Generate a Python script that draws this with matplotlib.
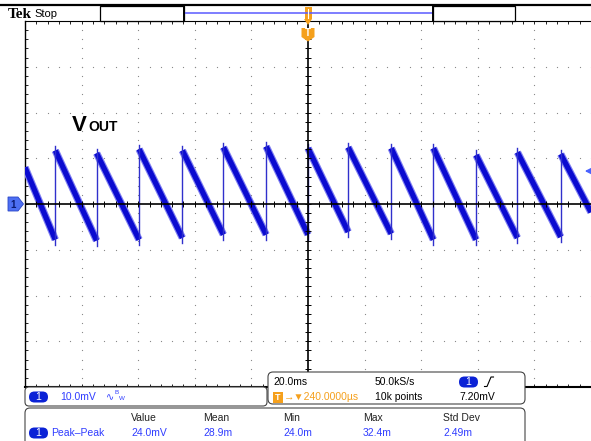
import matplotlib.pyplot as plt
from matplotlib.patches import FancyBboxPatch, Rectangle, Polygon
import numpy as np

# scope trace: 20 ms/div, 10 mV/div, ch1 ground at centre
edge_ms = [-89.3, -74.7, -59.7, -44.4, -29.9, -14.8, 0.0, 14.2, 29.4, 44.3, 59.4, 74.0, 89.3]
peak_mv = [11.7, 11.1, 12.0, 11.7, 12.4, 12.6, 12.2, 12.4, 12.2, 12.2, 10.7, 11.3, 10.9]
valley_mv = [-7.8, -8.0, -7.8, -7.4, -6.7, -6.7, -6.7, -6.1, -6.5, -7.8, -7.8, -7.4, -7.2]
start_ms, start_mv = -100.0, 8.0
end_ms, end_mv = 100.0, -1.8
trig_level_mv = 7.20

meas_headers = ["Value", "Mean", "Min", "Max", "Std Dev"]
meas_values = ["24.0mV", "28.9m", "24.0m", "32.4m", "2.49m"]
meas_name = "Peak\u2013Peak"
meas_cols = [131, 203, 283, 363, 443]

FONT = ['Liberation Sans', 'DejaVu Sans']
BLUE_TXT = '#2f3cff'
ORANGE = '#f5a01c'

fig = plt.figure(figsize=(5.91, 4.41), dpi=100)

# graticule area in pixels: x 25..591, y 21..387
ax = fig.add_axes([25 / 591, (441 - 387) / 441, 566 / 591, 366 / 441])
ax.set_xlim(-100, 100)
ax.set_ylim(-40, 40)
ax.set_xticks(np.arange(-100, 101, 20))
ax.set_yticks(np.arange(-40, 41, 10))
ax.set_xticks(np.arange(-100, 101, 4), minor=True)
ax.set_yticks(np.arange(-40, 41, 2), minor=True)
ax.tick_params(which='both', direction='in', length=2.2, width=0.7, top=True, bottom=True,
               left=True, right=False, labelbottom=False, labelleft=False, color='#222222')
ax.spines['right'].set_visible(False)
ax.spines['left'].set_linewidth(1.0)
ax.spines['top'].set_linewidth(0.8)
ax.spines['bottom'].set_linewidth(1.5)

# dotted graticule
for gx in np.arange(-80, 81, 20):
    if gx == 0:
        continue
    ys = np.arange(-40, 41, 2)
    ax.plot(np.full_like(ys, gx, dtype=float), ys, ls='none', marker='s', ms=0.8,
            color='#8a8a8a', mew=0)
for gy in np.arange(-30, 31, 10):
    if gy == 0:
        continue
    xs = np.arange(-100, 101, 4)
    ax.plot(xs, np.full_like(xs, gy, dtype=float), ls='none', marker='s', ms=0.8,
            color='#8a8a8a', mew=0)

# waveform: falling ramps drawn as a noisy band, rising edges as thin lines
ramp_x = [[start_ms, edge_ms[0]]]
ramp_y = [[start_mv, valley_mv[0]]]
for i in range(len(edge_ms) - 1):
    ramp_x.append([edge_ms[i], edge_ms[i + 1]])
    ramp_y.append([peak_mv[i], valley_mv[i + 1]])
ramp_x.append([edge_ms[-1], end_ms])
ramp_y.append([peak_mv[-1], end_mv])

for rx, ry in zip(ramp_x, ramp_y):
    ax.plot(rx, ry, color='#8080f2', lw=5.4, solid_capstyle='butt', zorder=3)
    ax.plot(rx, ry, color='#0b0bd0', lw=3.8, solid_capstyle='butt', zorder=4)
for ex, lo, hi in zip(edge_ms, valley_mv, peak_mv):
    ax.plot([ex, ex], [lo - 1.2, hi + 1.0], color='#3030cc', lw=1.0, zorder=4)

# centre crosshair with ticks
ax.axhline(0, color='black', lw=1.2, zorder=6)
ax.axvline(0, color='black', lw=1.2, zorder=6)
cx = np.arange(-100, 101, 4)
ax.plot(cx, np.zeros_like(cx), ls='none', marker='|', ms=4, mew=0.7, color='black', zorder=6)
cy = np.arange(-40, 41, 2)
ax.plot(np.zeros_like(cy), cy, ls='none', marker='_', ms=4, mew=0.7, color='black', zorder=6)

# trigger level arrow at right edge
ax.annotate('', xy=(96.8, trig_level_mv), xytext=(100.5, trig_level_mv),
            arrowprops=dict(arrowstyle='-|>', color='#4a62ff', lw=1.2, mutation_scale=9),
            annotation_clip=False, zorder=7)

# overlay in pixel coordinates for the scope furniture
ov = fig.add_axes([0, 0, 1, 1], zorder=5)
ov.set_xlim(0, 591)
ov.set_ylim(441, 0)
ov.axis('off')
ov.patch.set_alpha(0)

ov.plot([0, 591], [5, 5], color='black', lw=1.6)
ov.text(8, 14, 'Tek', fontsize=11, fontweight='bold', family='Liberation Serif',
        va='center', ha='left')
ov.text(34, 14, 'Stop', fontsize=8, family=FONT, va='center', ha='left')
ov.add_patch(Rectangle((100, 6), 84, 15, facecolor='white', edgecolor='black', lw=0.9))
ov.add_patch(Rectangle((433, 6), 82, 15, facecolor='white', edgecolor='black', lw=0.9))
ov.plot([184, 433], [13, 13], color='#5a5aff', lw=1.1)
ov.plot([184, 184], [6, 21], color='black', lw=1.4)
ov.plot([433, 433], [6, 21], color='black', lw=1.4)

# trigger position markers
ov.add_patch(Rectangle((304.5, 7), 7, 12, facecolor=ORANGE, edgecolor='none'))
ov.plot([308, 308], [9, 18], color='white', lw=0.8)
ov.add_patch(Polygon([(304, 19), (312, 19), (308, 25)], facecolor=ORANGE, edgecolor='none'))
ov.add_patch(Polygon([(301.5, 28), (314.5, 28), (314.5, 37), (308, 41.5), (301.5, 37)],
                     facecolor=ORANGE, edgecolor='none'))
ov.text(308, 33.5, 'T', fontsize=7, fontweight='bold', color='white', family=FONT,
        ha='center', va='center')

# Vout label
ov.text(72, 131, 'V', fontsize=16, fontweight='bold', family=FONT, va='baseline', ha='left')
ov.text(88, 131, 'OUT', fontsize=10, fontweight='bold', family=FONT, va='baseline', ha='left')

# channel 1 ground marker
ov.add_patch(Polygon([(8, 197), (18, 197), (23.5, 204), (18, 211), (8, 211)],
                     facecolor='#4d6ff2', edgecolor='#2a45c8', lw=0.6))
ov.text(13.5, 204.5, '1', fontsize=7, fontweight='bold', color='#0a1a70', family=FONT,
        ha='center', va='center')


def ch1_badge(x, y):
    ov.add_patch(FancyBboxPatch((x, y - 5.5), 19, 11,
                                boxstyle='round,pad=0,rounding_size=5.5',
                                facecolor='#0b22d6', edgecolor='none'))
    ov.text(x + 9.5, y + 0.3, '1', fontsize=7.5, color='white', family=FONT,
            ha='center', va='center')


# vertical scale box
ov.add_patch(FancyBboxPatch((25, 387), 242, 19, boxstyle='round,pad=0,rounding_size=4',
                            facecolor='white', edgecolor='#444444', lw=0.8))
ch1_badge(29, 397)
ov.text(60, 397, '10.0mV', fontsize=7.5, color=BLUE_TXT, family=FONT, va='center')
ov.text(105.5, 397, '\u223f', fontsize=7, color=BLUE_TXT, family='DejaVu Sans', va='center')
ov.text(114.5, 393, 'B', fontsize=4.5, color=BLUE_TXT, family=FONT, va='center')
ov.text(119, 399, 'W', fontsize=4.5, color=BLUE_TXT, family=FONT, va='center')

# horizontal / trigger box
ov.add_patch(FancyBboxPatch((268, 372), 257, 32, boxstyle='round,pad=0,rounding_size=5',
                            facecolor='white', edgecolor='#444444', lw=0.8))
ov.text(273, 382, '20.0ms', fontsize=7.5, family=FONT, va='center')
ov.text(375, 382, '50.0kS/s', fontsize=7.5, family=FONT, va='center')
ch1_badge(459, 382)
ov.plot([484.5, 487, 491, 493.5], [386.5, 386.5, 377, 377], color='black', lw=0.8)
ov.add_patch(Rectangle((273, 391.5), 10, 11, facecolor=ORANGE, edgecolor='none'))
ov.text(278, 397.3, 'T', fontsize=6.5, fontweight='bold', color='white', family=FONT,
        ha='center', va='center')
ov.text(284, 397, '\u2192\u25bc240.0000\u00b5s', fontsize=7.5, color=ORANGE, family=FONT,
        va='center')
ov.text(375, 397, '10k points', fontsize=7.5, family=FONT, va='center')
ov.text(459, 397, '7.20mV', fontsize=7.5, family=FONT, va='center')

# measurement box
ov.add_patch(FancyBboxPatch((25, 408), 500, 40, boxstyle='round,pad=0,rounding_size=5',
                            facecolor='white', edgecolor='#444444', lw=0.8, clip_on=False))
for cx_, head, val in zip(meas_cols, meas_headers, meas_values):
    ov.text(cx_, 418, head, fontsize=7.5, family=FONT, color='#222222', va='center')
    ov.text(cx_, 433, val, fontsize=7.5, family=FONT, color=BLUE_TXT, va='center')
ch1_badge(29, 433)
ov.text(51, 433, meas_name, fontsize=7.5, family=FONT, color=BLUE_TXT, va='center')

fig.savefig('out.png', dpi=100)
